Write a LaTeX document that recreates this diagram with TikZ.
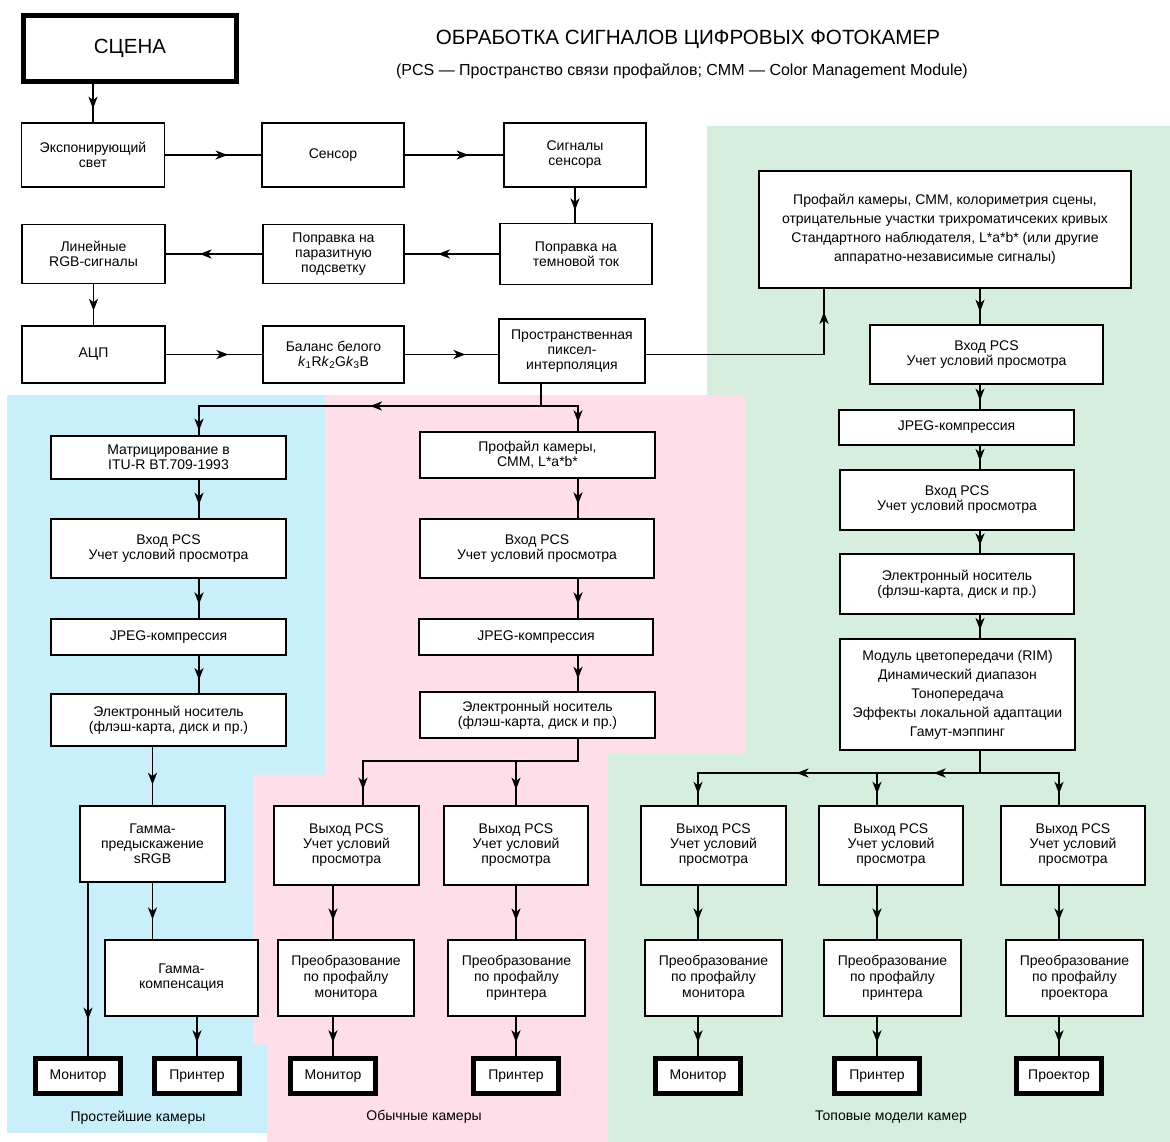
\documentclass[tikz,border=0pt]{standalone}
\usepackage{fontspec}
\setmainfont{Liberation Sans}
\usetikzlibrary{arrows.meta, decorations.markings, calc}
\definecolor{skyblue}{HTML}{C9EFFB}
\definecolor{rosepink}{HTML}{FDDEE9}
\definecolor{mintgreen}{HTML}{D6EEDE}
\newcommand{\boxfont}{\fontsize{14}{15}\selectfont}
\newcommand{\widefont}{\fontsize{14}{19}\selectfont}
\newcommand{\convfont}{\fontsize{14}{16}\selectfont}
\tikzset{
    stage/.style = {draw, line width=1.9pt, fill=white, align=center,
                    inner sep=1pt, font=\boxfont},
    device/.style = {draw, line width=5pt, fill=white, align=center,
                     inner sep=1pt, font=\boxfont,
                     minimum width=85pt, minimum height=35pt},
    wire/.style = {line width=1.9pt, line cap=rect},
    flow/.style = {wire, postaction={decorate},
                   decoration={markings, mark=at position #1 with
                   {\arrow{Stealth[length=12pt, width=9pt, inset=3.5pt]}}}},
    flow/.default = 0.65,
}

\begin{document}
\begin{tikzpicture}[x=1pt, y=-1pt]
    \useasboundingbox (0,0) rectangle (1170,1142);
    % camera classes
    \fill[skyblue] (7,395) rectangle (325,1133);
    \fill[rosepink] (325,395) -- (745,395) -- (745,753) -- (608,753) -- (608,1142)
        -- (267,1142) -- (267,1045) -- (253,1045) -- (253,775) -- (325,775) -- cycle;
    \fill[mintgreen] (707,126) -- (1170,126) -- (1170,1142) -- (608,1142) -- (608,753)
        -- (745,753) -- (745,395) -- (707,395) -- cycle;

    % heading
    \node[font=\fontsize{20.6}{25}\selectfont] (title) at (688,39) {ОБРАБОТКА СИГНАЛОВ ЦИФРОВЫХ ФОТОКАМЕР};
    \node[font=\fontsize{16}{18}\selectfont] (subtitle) at (682,71) {(PCS — Пространство связи профайлов; CMM — Color Management Module)};
    \node[device, minimum width=213pt, minimum height=66pt, font=\fontsize{20.5}{24}\selectfont] (scene) at (130,48.5) {СЦЕНА};

    % capture chain
    \node[stage, minimum width=143pt, minimum height=64pt] (expo) at (93,155) {Экспонирующий\\свет};
    \node[stage, minimum width=142pt, minimum height=64pt] (sensor) at (333,155) {Сенсор};
    \node[stage, minimum width=142pt, minimum height=64pt] (sigs) at (575,155) {Сигналы\\сенсора};
    \node[stage, minimum width=143pt, minimum height=59pt] (linrgb) at (93.5,254) {Линейные\\RGB-сигналы};
    \node[stage, minimum width=141pt, minimum height=59pt] (stray) at (333.5,254) {Поправка на\\паразитную\\подсветку};
    \node[stage, minimum width=152pt, minimum height=61pt] (dark) at (576,254) {Поправка на\\темновой ток};
    \node[stage, minimum width=143pt, minimum height=57pt] (adc) at (93.5,354.5) {АЦП};
    \node[stage, minimum width=141pt, minimum height=57pt] (wb) at (333.5,354.5) {Баланс белого\\\textit{k}\textsubscript{1}R\textit{k}\textsubscript{2}G\textit{k}\textsubscript{3}B};
    \node[stage, minimum width=146pt, minimum height=64pt] (interp) at (572,351) {Пространственная\\пиксел-\\интерполяция};

    % simplest cameras
    \node[stage, minimum width=235pt, minimum height=43pt] (matr) at (168.5,457.5) {Матрицирование в\\ITU-R BT.709-1993};
    \node[stage, minimum width=235pt, minimum height=59pt] (vinB) at (168.5,548.5) {Вход PCS\\Учет условий просмотра};
    \node[stage, minimum width=235pt, minimum height=36pt] (jpegB) at (168.5,637) {JPEG-компрессия};
    \node[stage, minimum width=235pt, minimum height=52pt] (elecB) at (168.5,720) {Электронный носитель\\(флэш-карта, диск и пр.)};
    \node[stage, minimum width=145pt, minimum height=76pt] (gpre) at (152.5,844) {Гамма-\\предыскажение\\sRGB};
    \node[stage, minimum width=153pt, minimum height=76pt] (gcomp) at (181.5,978) {Гамма-\\компенсация};
    \node[device] (devB1) at (78,1076) {Монитор};
    \node[device] (devB2) at (197,1076) {Принтер};
    \node[font=\boxfont] (lblB) at (138,1118) {Простейшие камеры};

    % ordinary cameras
    \node[stage, minimum width=235pt, minimum height=46pt] (profP) at (537.5,455) {Профайл камеры,\\CMM, L*a*b*};
    \node[stage, minimum width=234pt, minimum height=59pt] (vinP) at (537,548.5) {Вход PCS\\Учет условий просмотра};
    \node[stage, minimum width=234pt, minimum height=36pt] (jpegP) at (536,637) {JPEG-компрессия};
    \node[stage, minimum width=235pt, minimum height=46pt] (elecP) at (537.5,715) {Электронный носитель\\(флэш-карта, диск и пр.)};
    \node[stage, minimum width=145pt, minimum height=79pt] (outP1) at (346.5,845.5) {Выход PCS\\Учет условий\\просмотра};
    \node[stage, minimum width=144pt, minimum height=79pt] (outP2) at (516,845.5) {Выход PCS\\Учет условий\\просмотра};
    \node[stage, minimum width=136pt, minimum height=76pt, font=\convfont] (convP1) at (346,978) {Преобразование\\по профайлу\\монитора};
    \node[stage, minimum width=137pt, minimum height=76pt, font=\convfont] (convP2) at (516.5,978) {Преобразование\\по профайлу\\принтера};
    \node[device] (devP1) at (333,1076) {Монитор};
    \node[device] (devP2) at (516,1076) {Принтер};
    \node[font=\boxfont] (lblP) at (424,1117) {Обычные камеры};

    % top models
    \node[stage, minimum width=372pt, minimum height=117pt, font=\widefont] (camprof) at (945,229.5) {Профайл камеры, CMM, колориметрия сцены,\\отрицательные участки трихроматичсеких кривых\\Стандартного наблюдателя, L*a*b* (или другие\\аппаратно-независимые сигналы)};
    \node[stage, minimum width=233pt, minimum height=59pt] (vinR1) at (986.5,354.5) {Вход PCS\\Учет условий просмотра};
    \node[stage, minimum width=235pt, minimum height=35pt] (jpegR) at (956.5,427.5) {JPEG-компрессия};
    \node[stage, minimum width=234pt, minimum height=60pt] (vinR2) at (957,500) {Вход PCS\\Учет условий просмотра};
    \node[stage, minimum width=234pt, minimum height=60pt] (elecR) at (957,584) {Электронный носитель\\(флэш-карта, диск и пр.)};
    \node[stage, minimum width=235pt, minimum height=111pt, font=\widefont] (rim) at (957.5,694.5) {Модуль цветопередачи (RIM)\\Динамический диапазон\\Тонопередача\\Эффекты локальной адаптации\\Гамут-мэппинг};
    \node[stage, minimum width=145pt, minimum height=79pt] (outR1) at (713.5,845.5) {Выход PCS\\Учет условий\\просмотра};
    \node[stage, minimum width=144pt, minimum height=79pt] (outR2) at (891,845.5) {Выход PCS\\Учет условий\\просмотра};
    \node[stage, minimum width=144pt, minimum height=79pt] (outR3) at (1073,845.5) {Выход PCS\\Учет условий\\просмотра};
    \node[stage, minimum width=137pt, minimum height=76pt, font=\convfont] (convR1) at (713.5,978) {Преобразование\\по профайлу\\монитора};
    \node[stage, minimum width=137pt, minimum height=76pt, font=\convfont] (convR2) at (892.5,978) {Преобразование\\по профайлу\\принтера};
    \node[stage, minimum width=137pt, minimum height=76pt, font=\convfont] (convR3) at (1074.5,978) {Преобразование\\по профайлу\\проектора};
    \node[device] (devR1) at (698,1076) {Монитор};
    \node[device] (devR2) at (877,1076) {Принтер};
    \node[device] (devR3) at (1059,1076) {Проектор};
    \node[font=\boxfont] (lblR) at (891,1117) {Топовые модели камер};

    % junction points
    \coordinate (bend) at (824,354.5);
    \coordinate (forkT) at (541,406);
    \coordinate (colB) at (199,406);
    \coordinate (colP) at (578,406);
    \coordinate (dropB) at (88,1000);
    \coordinate (forkP) at (578,761);
    \coordinate (tapP1) at (363,761);
    \coordinate (tapP2) at (outP2 |- forkP);
    \coordinate (busR) at (980,773);
    \coordinate (tapR1) at (busR -| devR1);
    \coordinate (tapR2) at (busR -| devR2);
    \coordinate (tapR3) at (busR -| devR3);

    % capture chain
    \draw[flow] (expo.north |- scene.south) -- (expo.north);
    \draw[flow] (expo) -- (sensor);
    \draw[flow] (sensor) -- (sigs);
    \draw[flow] (sigs.south) -- (sigs.south |- dark.north);
    \draw[flow] (dark) -- (stray);
    \draw[flow] (stray) -- (linrgb);
    \draw[flow] (linrgb) -- (adc);
    \draw[flow] (adc) -- (wb);
    \draw[flow] (wb.east) -- (wb.east -| interp.west);
    \draw[wire] (interp.east |- bend) -- (bend);
    \draw[flow] (bend) -- (bend |- camprof.south);

    % split to classes
    \draw[wire] (interp.south -| forkT) -- (forkT) -- (colP);
    \draw[flow=0.5] (forkT) -- (colB);
    \draw[flow=0.85] (colB) -- (colB |- matr.north);
    \draw[flow] (colP) -- (colP |- profP.north);

    % simplest cameras
    \draw[flow] (matr.south -| colB) -- (vinB.north -| colB);
    \draw[flow] (vinB.south -| colB) -- (jpegB.north -| colB);
    \draw[flow] (jpegB.south -| colB) -- (elecB.north -| colB);
    \draw[flow] (elecB.south -| gpre) -- (gpre.north);
    \draw[flow] (gpre.south) -- (gpre.south |- gcomp.north);
    \draw[flow=0.79] (gpre.south -| dropB) -- (devB1.north -| dropB);
    \draw[flow] (devB2.north |- gcomp.south) -- (devB2.north);

    % ordinary cameras
    \draw[flow] (profP.south -| colP) -- (vinP.north -| colP);
    \draw[flow] (vinP.south -| colP) -- (jpegP.north -| colP);
    \draw[flow] (jpegP.south -| colP) -- (elecP.north -| colP);
    \draw[wire] (elecP.south -| forkP) -- (forkP) -- (tapP1);
    \draw[flow] (tapP1) -- (tapP1 |- outP1.north);
    \draw[flow] (tapP2) -- (outP2.north);
    \draw[flow] (outP1.south -| devP1) -- (convP1.north -| devP1);
    \draw[flow] (convP1.south -| devP1) -- (devP1.north);
    \draw[flow] (outP2.south) -- (convP2.north -| outP2);
    \draw[flow] (convP2.south -| devP2) -- (devP2.north);

    % top models
    \draw[flow] (camprof.south -| busR) -- (vinR1.north -| busR);
    \draw[flow] (vinR1.south -| busR) -- (jpegR.north -| busR);
    \draw[flow] (jpegR.south -| busR) -- (vinR2.north -| busR);
    \draw[flow] (vinR2.south -| busR) -- (elecR.north -| busR);
    \draw[flow] (elecR.south -| busR) -- (rim.north -| busR);
    \draw[wire] (rim.south -| busR) -- (busR) -- (tapR3);
    \draw[flow=0.45] (busR) -- (tapR2);
    \draw[flow=0.45] (tapR2) -- (tapR1);
    \foreach \k in {1,2,3} {
        \draw[flow] (tapR\k) -- (outR\k.north -| tapR\k);
        \draw[flow] (outR\k.south -| tapR\k) -- (convR\k.north -| tapR\k);
        \draw[flow] (convR\k.south -| tapR\k) -- (devR\k.north);
    }
\end{tikzpicture}
\end{document}
